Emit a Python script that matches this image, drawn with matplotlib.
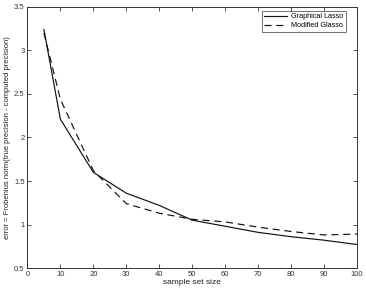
import matplotlib
matplotlib.use('Agg')
import matplotlib.pyplot as plt

plt.rcParams['font.family'] = ['Liberation Sans', 'DejaVu Sans']

# data
sample_size = [5, 10, 20, 30, 40, 50, 60, 70, 80, 90, 100]
glasso = [3.24, 2.21, 1.60, 1.36, 1.22, 1.05, 0.98, 0.91, 0.86, 0.82, 0.77]
modified = [3.20, 2.44, 1.62, 1.24, 1.13, 1.06, 1.03, 0.97, 0.92, 0.88, 0.89]

fig = plt.figure(figsize=(3.66, 2.91), dpi=100)
ax = fig.add_axes([0.075, 0.079, 0.900, 0.897])

ax.plot(sample_size, glasso, color='#111111', lw=0.85, label='Graphical Lasso')
ax.plot(sample_size, modified, color='#111111', lw=0.85, ls=(0, (6, 4)), label='Modified Glasso')

ax.set_xlim(0, 100)
ax.set_ylim(0.5, 3.5)
ax.set_xticks(range(0, 101, 10))
ax.set_yticks([0.5, 1, 1.5, 2, 2.5, 3, 3.5])
ax.set_yticklabels(['0.5', '1', '1.5', '2', '2.5', '3', '3.5'])
ax.tick_params(direction='in', top=True, right=True, labelsize=5.5, length=3, width=0.6,
               colors='#333333', pad=2)
for s in ax.spines.values():
    s.set_linewidth(0.7)
    s.set_color('#333333')

ax.set_xlabel('sample set size', fontsize=6, labelpad=1, color='#222222')
ax.set_ylabel('error = Frobenius norm(true precision - computed precision)', fontsize=5.5,
              labelpad=2, color='#222222')

leg = ax.legend(loc='upper right', bbox_to_anchor=(0.966, 0.985), fontsize=5.2, fancybox=False,
                edgecolor='#333333', handlelength=3.2, handletextpad=0.5, borderpad=0.35,
                labelspacing=0.25, borderaxespad=0)
leg.get_frame().set_linewidth(0.6)

fig.savefig('out.png', dpi=100)
